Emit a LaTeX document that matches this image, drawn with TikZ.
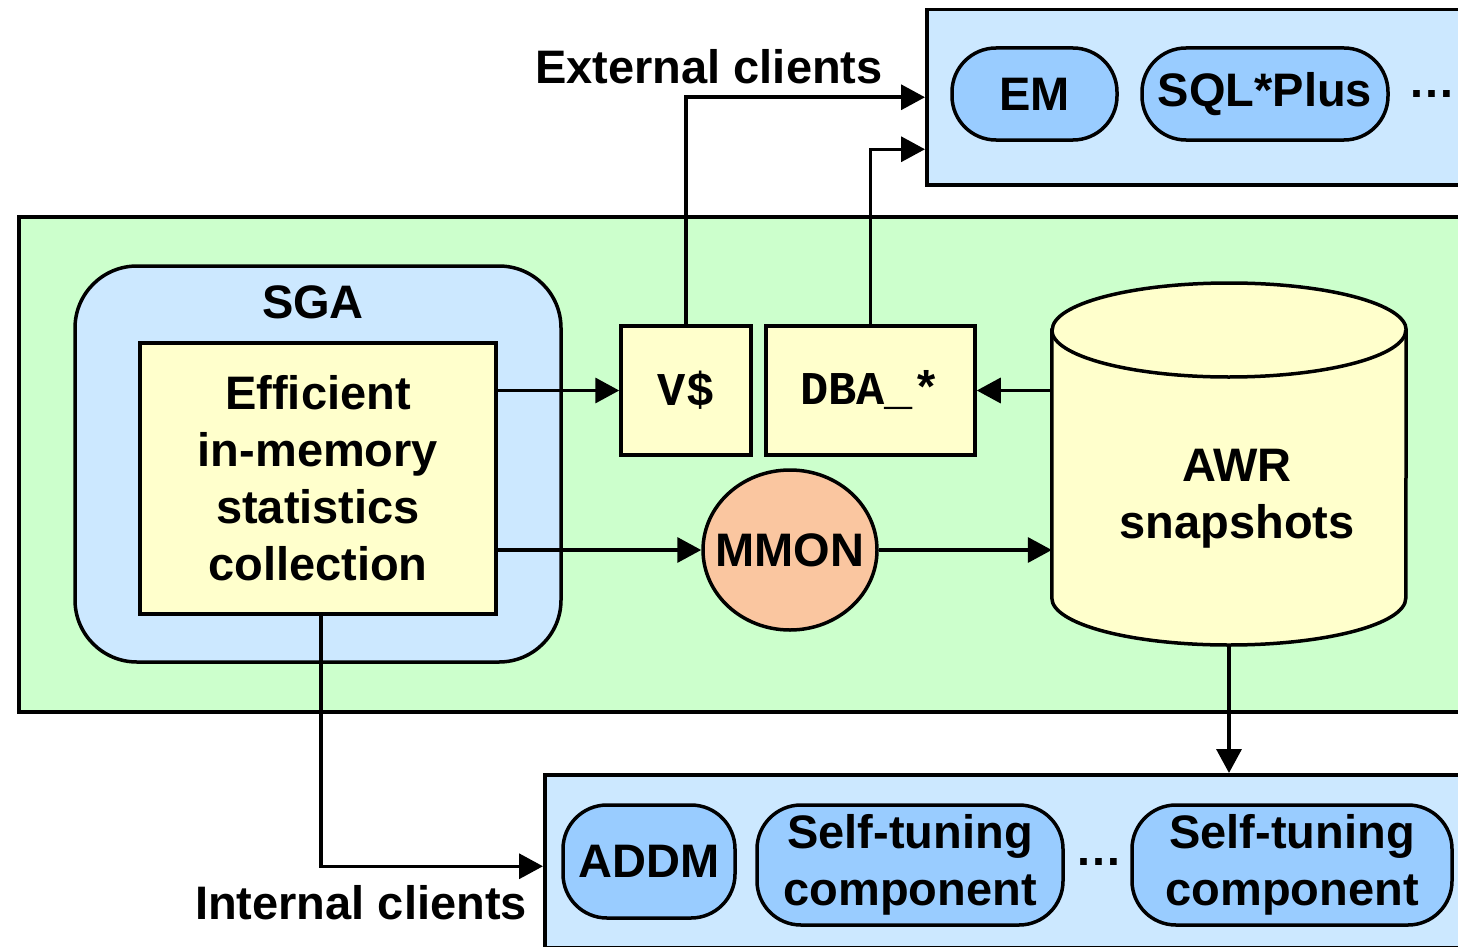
\documentclass[tikz,border=0pt]{standalone}
\usepackage{fontspec}
\setmainfont{Liberation Sans}
\setmonofont{Liberation Mono}
\usepackage{tikz}
\usetikzlibrary{arrows.meta,positioning,shapes.geometric,calc}
\definecolor{dbgreen}{HTML}{CCFFCC}
\definecolor{sgablue}{HTML}{CCE8FF}
\definecolor{pillblue}{HTML}{99CCFF}
\definecolor{statyel}{HTML}{FFFFCC}
\definecolor{mmonor}{HTML}{FAC6A0}

\begin{document}
\begin{tikzpicture}[
  x=1pt, y=-1pt,
  >={Triangle[length=24pt,width=25pt]},
  every node/.style={font=\fontsize{47}{57}\selectfont\bfseries, inner sep=0pt},
  panel/.style={draw, line width=3.5pt, anchor=north west},
  pill/.style={draw, line width=3.5pt, fill=pillblue, rounded corners=44pt, align=center},
  view/.style={draw, line width=3.5pt, fill=statyel, font=\fontsize{47}{57}\selectfont\ttfamily\bfseries},
  arr/.style={->, line width=3.5pt},
]
\useasboundingbox (0,0) rectangle (1458,947);
\clip (0,0) rectangle (1458,947);

% client panels and database
\node[panel, fill=sgablue, minimum width=560pt, minimum height=175pt] (ext) at (925,8) {};
\node[panel, fill=dbgreen, minimum width=1470pt, minimum height=495pt] (db) at (17,215) {};
\node[panel, fill=sgablue, minimum width=930pt, minimum height=173pt] (int) at (543,773) {};

\node[pill, minimum width=165pt, minimum height=92pt] (em) at (1034.5,94) {EM};
\node[pill, minimum width=246pt, minimum height=92pt] (sqlplus) at (1265,94) {SQL*Plus};
\node (extdots) at (1432,94) {\ldots};

\node[pill, minimum width=172pt, minimum height=113pt] (addm) at (649,861.5) {ADDM};
\node[pill, minimum width=306pt, minimum height=120pt] (tune1) at (910,865) {Self-tuning\\component};
\node (intdots) at (1099,862) {\ldots};
\node[pill, minimum width=320pt, minimum height=120pt] (tune2) at (1292,865) {Self-tuning\\component};

\node (extlabel) at (709,67) {External clients};
\node (intlabel) at (361,903) {Internal clients};

% SGA
\node[draw, line width=3.5pt, fill=sgablue, rounded corners=62pt, minimum width=486pt, minimum height=396pt] (sga) at (318,464) {};
\node (sgalabel) at (313,302) {SGA};
\node[draw, line width=3.5pt, fill=statyel, minimum width=356pt, minimum height=271pt, align=center] (stats) at (318,478.5) {Efficient\\in-memory\\statistics\\collection};

\node[view, minimum width=130pt, minimum height=129pt] (vs) at (686,390.5) {V\$};
\node[view, minimum width=209pt, minimum height=129pt] (dba) at (870.5,390.5) {DBA\_*};

\node[ellipse, draw, line width=3.5pt, fill=mmonor, inner xsep=-13pt, minimum width=174pt, minimum height=160pt] (mmon) at (790,550) {MMON};

% AWR cylinder
\node[minimum width=354pt, minimum height=362pt] (awr) at (1229,464) {};
\filldraw[line width=3.5pt, fill=statyel] (awr.west |- 0,330) -- (awr.west |- 0,598)
  arc (180:360:177pt and 47pt) -- (awr.east |- 0,330) arc (0:180:177pt and 47pt) -- cycle;
\draw[line width=3.5pt] (awr.west |- 0,330) arc (180:360:177pt and 47pt);
\node[align=center] (awrlabel) at (1237,499) {AWR\\snapshots};

% connectors
\draw[arr] (vs.north) |- (ext.west);
\draw[arr] (dba.north) |- ([yshift=-52pt]ext.west);
\draw[arr] (stats.east |- vs.west) -- (vs.west);
\draw[arr] (awr.west |- dba.east) -- (dba.east);
\draw[arr] (stats.east |- mmon.west) -- (mmon.west);
\draw[arr] (mmon.east) -- (mmon.east -| awr.west);
\draw[arr] (awr.south) -- (awr.south |- int.north);
\draw[arr] ([xshift=3pt]stats.south) |- ([yshift=-5pt]int.west);

\end{tikzpicture}
\end{document}
